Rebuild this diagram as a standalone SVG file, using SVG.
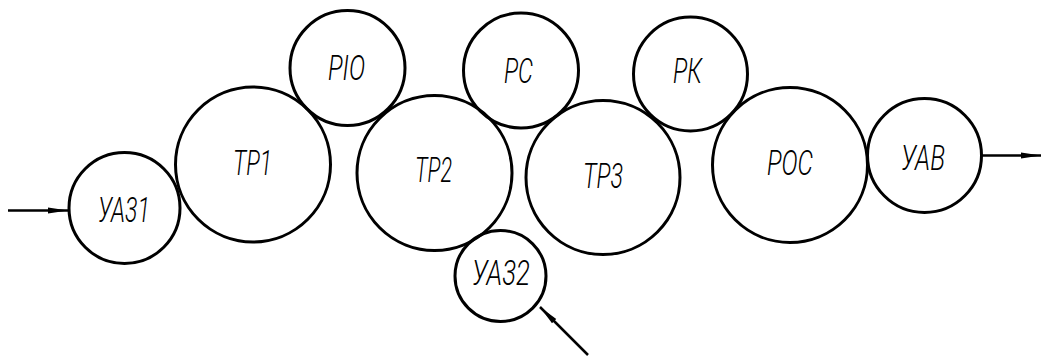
<svg xmlns="http://www.w3.org/2000/svg" width="1041" height="356" viewBox="0 0 1041 356">
<defs>
<style>
.n{fill:none;stroke:#000;stroke-width:3}
.t{font-family:Roboto,"Liberation Sans","DejaVu Sans",sans-serif;font-style:italic;font-weight:300;font-size:35px;fill:#000;text-anchor:middle}
.c{stroke:#000;stroke-width:2.5;fill:none}
</style>
<marker id="ah" viewBox="0 0 20 8" refX="20" refY="4" markerWidth="20" markerHeight="8" markerUnits="userSpaceOnUse" orient="auto">
<path d="M0,1 L20,4 L0,7 Z" fill="#000"/>
</marker>
</defs>
<rect width="1041" height="356" fill="#fff"/>
<g id="connectors">
<line class="c" x1="8" y1="210.5" x2="68" y2="210.5" marker-end="url(#ah)"/>
<line class="c" x1="982" y1="155.5" x2="1041" y2="155.5" marker-end="url(#ah)"/>
<line class="c" x1="588" y1="355" x2="540" y2="307" marker-end="url(#ah)"/>
</g>
<g id="UA31"><circle class="n" cx="124.5" cy="208" r="55.5"/><text class="t" x="124" y="222" textLength="52" lengthAdjust="spacingAndGlyphs">УА31</text></g>
<g id="TR1"><circle class="n" cx="253" cy="164.5" r="77.5"/><text class="t" x="252.5" y="175" textLength="39" lengthAdjust="spacingAndGlyphs">ТР1</text></g>
<g id="RYu"><circle class="n" cx="347.5" cy="68" r="57.5"/><text class="t" x="346.5" y="80" textLength="37" lengthAdjust="spacingAndGlyphs">РIО</text></g>
<g id="TR2"><circle class="n" cx="434.5" cy="173" r="77.5"/><text class="t" x="433.5" y="182" textLength="37" lengthAdjust="spacingAndGlyphs">ТР2</text></g>
<g id="RS"><circle class="n" cx="521" cy="70.5" r="57.5"/><text class="t" x="518.5" y="83" textLength="29" lengthAdjust="spacingAndGlyphs">РС</text></g>
<g id="TR3"><circle class="n" cx="603" cy="177.5" r="77"/><text class="t" x="603" y="188" textLength="40" lengthAdjust="spacingAndGlyphs">ТР3</text></g>
<g id="RK"><circle class="n" cx="690.5" cy="74" r="57"/><text class="t" x="687.5" y="83" textLength="29" lengthAdjust="spacingAndGlyphs">РК</text></g>
<g id="ROS"><circle class="n" cx="790" cy="165" r="77.5"/><text class="t" x="790" y="175" textLength="46" lengthAdjust="spacingAndGlyphs">РОС</text></g>
<g id="UAV"><circle class="n" cx="924.5" cy="155.5" r="57"/><text class="t" x="923" y="170" textLength="44" lengthAdjust="spacingAndGlyphs">УАВ</text></g>
<g id="UA32"><circle class="n" cx="500.5" cy="276" r="45.5"/><text class="t" x="501" y="285" textLength="58" lengthAdjust="spacingAndGlyphs">УА32</text></g>
</svg>
